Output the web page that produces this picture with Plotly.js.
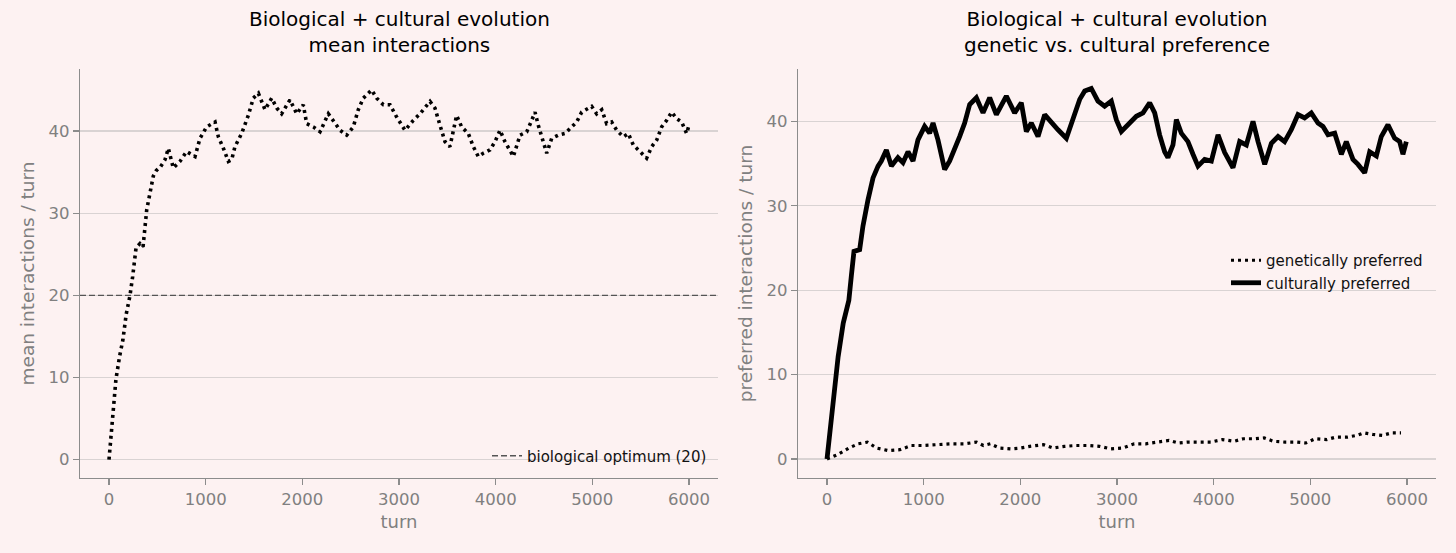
<!DOCTYPE html>
<html>
<head>
<meta charset="utf-8">
<script src="https://cdn.plot.ly/plotly-3.0.1.min.js"></script>
<style>html,body{margin:0;padding:0;background:#fdf2f2;}#chart{width:1456px;height:553px;}</style>
</head>
<body>
<div id="chart"></div>
<script>
// ---- data ----
const meanTurn = [0,38,72,110,144,178,216,245,280,320,352,390,424,458,490,530,579,614,665,734,803,890,941,1010,1097,1131,1183,1235,1269,1303,1372,1441,1493,1545,1614,1683,1735,1786,1872,1942,2010,2045,2114,2183,2269,2321,2390,2459,2527,2579,2631,2717,2769,2838,2907,2976,3062,3148,3217,3321,3372,3424,3476,3527,3596,3648,3717,3769,3820,3872,3941,3993,4045,4096,4148,4183,4252,4321,4373,4407,4441,4493,4528,4579,4648,4717,4786,4838,4890,4941,4993,5045,5097,5148,5200,5252,5321,5372,5424,5493,5562,5614,5666,5717,5769,5821,5872,5924,5976,5995];
const meanInteractions = [0,4.9,9.8,12.6,14.6,17.7,19.9,22.3,25.8,26.3,25.9,30.4,32.4,34.5,35.2,35.6,36.5,37.9,35.5,36.3,37.5,36.9,39.1,40.5,41.1,39.3,37.9,36.3,36.5,38.1,39.7,41.9,44.0,44.6,42.6,44.0,42.8,42.1,43.8,42.1,43.2,40.9,40.5,39.9,42.1,41.3,40.1,39.5,40.5,42.6,44.0,45.0,44.0,43.2,43.2,41.7,40.1,41.3,42.1,43.6,42.8,40.7,38.7,38.1,41.9,40.5,39.7,38.1,36.9,37.3,37.7,38.7,40.1,38.7,37.7,36.9,39.5,39.9,41.3,42.3,40.7,38.5,37.3,39.1,39.5,39.7,40.5,41.1,42.3,42.6,43.0,42.1,42.6,40.9,41.1,40.1,39.3,39.7,38.3,37.5,36.7,38.1,38.9,40.5,41.3,42.3,41.5,41.1,39.7,40.5];

const biologicalOptimum = 20;

const cultureTurn = [0,58,115,168,226,252,279,338,372,424,476,528,562,614,666,734,786,838,890,941,1010,1062,1097,1148,1217,1269,1321,1372,1424,1476,1545,1614,1683,1752,1855,1941,2010,2062,2114,2183,2252,2321,2390,2476,2545,2614,2666,2734,2803,2872,2941,2993,3045,3131,3200,3269,3338,3390,3441,3493,3527,3579,3614,3665,3734,3786,3838,3907,3976,4045,4114,4200,4269,4338,4407,4459,4528,4597,4666,4734,4803,4872,4941,5010,5079,5131,5183,5252,5321,5372,5441,5493,5562,5614,5683,5734,5803,5872,5924,5958,5993];
const culturallyPreferred = [0,6.2,12.1,16.1,18.8,21.7,24.6,24.8,27.6,30.7,33.3,34.7,35.3,36.6,34.7,35.7,35.1,36.4,35.3,37.8,39.4,38.6,39.8,37.8,34.3,35.3,36.6,38.2,39.8,42.0,42.8,41.0,42.8,40.8,43.0,41.0,42.2,38.8,39.8,38.2,40.8,39.8,39.0,38.0,40.4,42.6,43.6,43.9,42.4,41.8,42.4,40.2,38.8,39.8,40.6,41.0,42.2,41.0,38.4,36.4,35.7,37.2,40.2,38.6,37.6,36.1,34.7,35.5,35.3,38.4,36.3,34.5,37.6,37.2,40.0,37.6,34.9,37.4,38.2,37.6,39.0,40.8,40.4,41.0,39.8,39.4,38.4,38.6,36.1,37.6,35.5,34.9,33.9,36.4,35.9,38.2,39.6,38.0,37.6,36.1,37.6];

const geneticTurn = [0,106,226,322,418,514,634,754,874,994,1138,1282,1426,1546,1618,1690,1786,1906,2002,2098,2242,2338,2458,2578,2698,2818,2938,3058,3178,3298,3418,3538,3634,3730,3850,3970,4090,4210,4306,4426,4522,4618,4738,4858,4954,5050,5170,5266,5386,5482,5554,5650,5746,5842,5938];
const geneticallyPreferred = [0,0.5,1.3,1.8,2.0,1.3,1.0,1.1,1.6,1.6,1.7,1.8,1.8,2.0,1.6,1.8,1.3,1.2,1.3,1.5,1.7,1.3,1.5,1.6,1.6,1.5,1.2,1.3,1.8,1.8,2.0,2.2,1.9,2.0,2.0,2.0,2.3,2.1,2.4,2.4,2.5,2.1,2.0,2.0,1.9,2.4,2.3,2.6,2.6,2.8,3.1,2.9,2.8,3.1,3.1];

const xTickVals = [0,1000,2000,3000,4000,5000,6000];
const yTickVals = [0,10,20,30,40];
const turnRange = [-300, 6300];

const titleLeft = 'Biological + cultural evolution<br>mean interactions';
const titleRight = 'Biological + cultural evolution<br>genetic vs. cultural preference';

// ---- styling ----
const BG = '#fdf2f2';
const FONT = 'DejaVu Sans, sans-serif';
const GREY = '#808080';
const SPINE = '#8c8c8c';
const GRID = '#d9d3d3';

function xAxis(domain, anchor) {
  return {
    domain: domain, anchor: anchor, range: turnRange,
    tickvals: xTickVals, ticktext: xTickVals.map(String),
    showgrid: false, zeroline: false, showline: true,
    linecolor: SPINE, linewidth: 1.3, ticks: 'outside', ticklen: 6,
    tickcolor: SPINE, tickwidth: 1.3,
    tickfont: {family: FONT, size: 16.5, color: GREY},
    title: {text: 'turn', font: {family: FONT, size: 18, color: GREY}, standoff: 7}
  };
}
function yAxis(domain, anchor, range, title) {
  return {
    domain: domain, anchor: anchor, range: range,
    tickvals: yTickVals, ticktext: yTickVals.map(String),
    showgrid: true, gridcolor: GRID, gridwidth: 1.2, zeroline: false, showline: true,
    linecolor: SPINE, linewidth: 1.3, ticks: 'outside', ticklen: 6,
    tickcolor: SPINE, tickwidth: 1.3,
    tickfont: {family: FONT, size: 16.5, color: GREY},
    title: {text: title, font: {family: FONT, size: 18.5, color: GREY}, standoff: 9}
  };
}

const W = 1456, H = 553;
const yDom = [(H - 478) / H, (H - 69) / H];

const traces = [
  {x: meanTurn, y: meanInteractions, xaxis: 'x', yaxis: 'y', mode: 'lines',
   line: {color: '#000', width: 3.6, dash: '3px,4px'}, showlegend: false, hoverinfo: 'skip'},
  {x: turnRange, y: [biologicalOptimum, biologicalOptimum], xaxis: 'x', yaxis: 'y', mode: 'lines',
   line: {color: '#555', width: 1.4, dash: '6px,3px'}, name: 'biological optimum (20)', legend: 'legend'},
  {x: geneticTurn, y: geneticallyPreferred, xaxis: 'x2', yaxis: 'y2', mode: 'lines',
   line: {color: '#000', width: 3.2, dash: '3px,4px'}, name: 'genetically preferred', legend: 'legend2'},
  {x: cultureTurn, y: culturallyPreferred, xaxis: 'x2', yaxis: 'y2', mode: 'lines',
   line: {color: '#000', width: 4.8}, name: 'culturally preferred', legend: 'legend2'}
];

const layout = {
  width: W, height: H,
  margin: {l: 0, r: 0, t: 0, b: 0},
  paper_bgcolor: BG, plot_bgcolor: BG,
  font: {family: FONT},
  xaxis: xAxis([80 / W, 718 / W], 'y'),
  yaxis: yAxis(yDom, 'x', [-2.23, 47.55], 'mean interactions / turn'),
  xaxis2: xAxis([798 / W, 1436 / W], 'y2'),
  yaxis2: yAxis(yDom, 'x2', [-2.25, 46.2], 'preferred interactions / turn'),
  showlegend: true,
  legend: {x: 712 / W, xanchor: 'right', y: (H - 456) / H, yanchor: 'middle',
           bgcolor: 'rgba(0,0,0,0)', borderwidth: 0,
           font: {family: FONT, size: 15, color: '#111'}},
  legend2: {x: 1226 / W, xanchor: 'left', y: (H - 244) / H, yanchor: 'top',
            bgcolor: 'rgba(0,0,0,0)', borderwidth: 0,
            font: {family: FONT, size: 15, color: '#111'}},
  annotations: [
    {text: titleLeft, xref: 'paper', yref: 'paper', x: 399 / W, y: (H - 32) / H,
     xanchor: 'center', yanchor: 'middle', showarrow: false,
     font: {family: FONT, size: 20, color: '#000'}},
    {text: titleRight, xref: 'paper', yref: 'paper', x: 1117 / W, y: (H - 32) / H,
     xanchor: 'center', yanchor: 'middle', showarrow: false,
     font: {family: FONT, size: 20, color: '#000'}}
  ]
};

Plotly.newPlot('chart', traces, layout, {displayModeBar: false, staticPlot: true});
</script>
</body>
</html>
